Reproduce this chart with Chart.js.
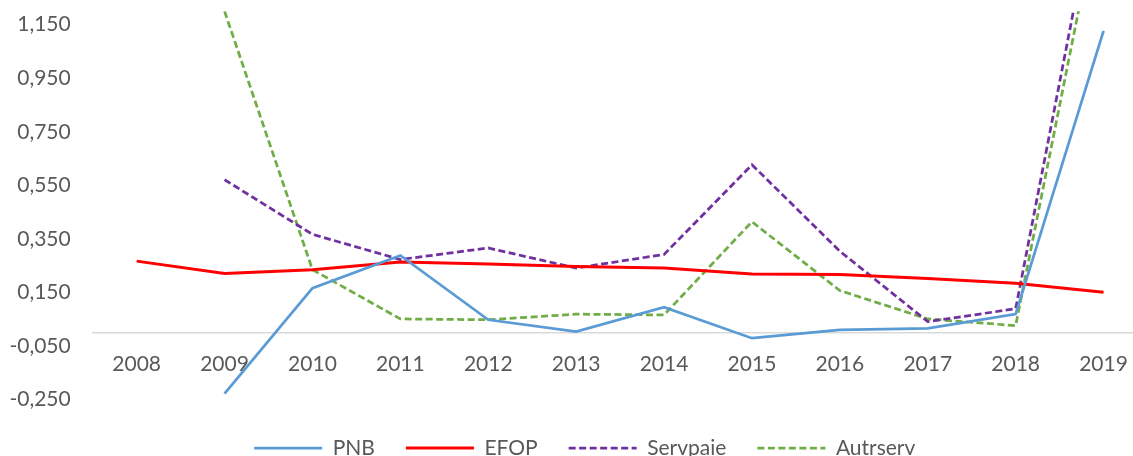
<!DOCTYPE html>
<html>
<head>
<meta charset="utf-8">
<script src="https://cdn.jsdelivr.net/npm/chart.js@4/dist/chart.umd.min.js"></script>
<style>
  html, body { margin: 0; padding: 0; background: #fff; overflow: hidden; }
  #wrap { width: 1160px; height: 470px; position: relative; }
</style>
</head>
<body>
<div id="wrap"><canvas id="chart"></canvas></div>
<script>
// yearly series
const years = ["2008", "2009", "2010", "2011", "2012", "2013", "2014", "2015", "2016", "2017", "2018", "2019"];
const pnb = [null, -0.228, 0.166, 0.288, 0.048, 0.004, 0.095, -0.021, 0.010, 0.016, 0.069, 1.127];
const efop = [0.267, 0.221, 0.235, 0.264, 0.256, 0.247, 0.241, 0.219, 0.217, 0.202, 0.184, 0.151];
const servpaie = [null, 0.571, 0.367, 0.273, 0.316, 0.241, 0.292, 0.627, 0.304, 0.041, 0.089, 1.78];
const autrserv = [null, 1.2, 0.235, 0.051, 0.048, 0.069, 0.066, 0.414, 0.157, 0.051, 0.026, 1.67];
const yTicks = [-0.25, -0.05, 0.15, 0.35, 0.55, 0.75, 0.95, 1.15];

const textColor = "#595959";
const font = { family: "Lato, 'Open Sans', sans-serif", size: 21 };

function series(label, data, color, width, dash) {
    return {
        label: label,
        data: data,
        borderColor: color,
        backgroundColor: color,
        borderWidth: width,
        borderDash: dash,
        pointRadius: 0,
        pointHoverRadius: 0,
        tension: 0,
        fill: false
    };
}

// nudge the legend row a little to the right of the canvas centre
const legendShift = {
    id: "legendShift",
    afterLayout(chart) {
        chart.legend.left += 11;
        chart.legend.right += 11;
    }
};

const ctx = document.getElementById("chart");
new Chart(ctx, {
    type: "line",
    data: {
        labels: years,
        datasets: [
            series("PNB", pnb, "#5B9BD5", 2.75, []),
            series("EFOP", efop, "#FF0000", 3, []),
            series("Servpaie", servpaie, "#7030A0", 2.75, [7, 3.5]),
            series("Autrserv", autrserv, "#70AD47", 2.75, [7, 3.5])
        ]
    },
    plugins: [legendShift],
    options: {
        responsive: true,
        maintainAspectRatio: false,
        animation: false,
        layout: { padding: { left: 0, right: 12.5, top: 11.3, bottom: 1.5 } },
        scales: {
            x: {
                type: "category",
                offset: true,
                position: { y: 0 },
                grid: { display: false, drawTicks: false },
                border: { display: true, color: "#D9D9D9", width: 1.5 },
                ticks: { color: textColor, font: font, padding: 19.5, maxRotation: 0, autoSkip: false }
            },
            y: {
                min: -0.276,
                max: 1.2,
                grid: { display: false, drawTicks: false },
                border: { display: false },
                afterBuildTicks: scale => { scale.ticks = yTicks.map(v => ({ value: v })); },
                afterFit: scale => {
                    scale.width = 92.7;
                    scale.paddingTop = 0;
                    scale.paddingBottom = 0;
                },
                ticks: {
                    color: textColor,
                    font: font,
                    padding: 22,
                    callback: v => Number(v).toFixed(3).replace(".", ",")
                }
            }
        },
        plugins: {
            legend: {
                position: "bottom",
                labels: {
                    color: textColor,
                    font: font,
                    usePointStyle: true,
                    pointStyle: "line",
                    pointStyleWidth: 68,
                    boxHeight: 21,
                    padding: 31,
                    // legend keys take the line's own width and dash
                    generateLabels: chart => {
                        const items = Chart.defaults.plugins.legend.labels.generateLabels(chart);
                        items.forEach(item => {
                            const ds = chart.data.datasets[item.datasetIndex];
                            item.strokeStyle = ds.borderColor;
                            item.lineWidth = ds.borderWidth;
                            item.lineDash = ds.borderDash;
                        });
                        return items;
                    }
                }
            },
            tooltip: { enabled: false }
        }
    }
});
</script>
</body>
</html>
